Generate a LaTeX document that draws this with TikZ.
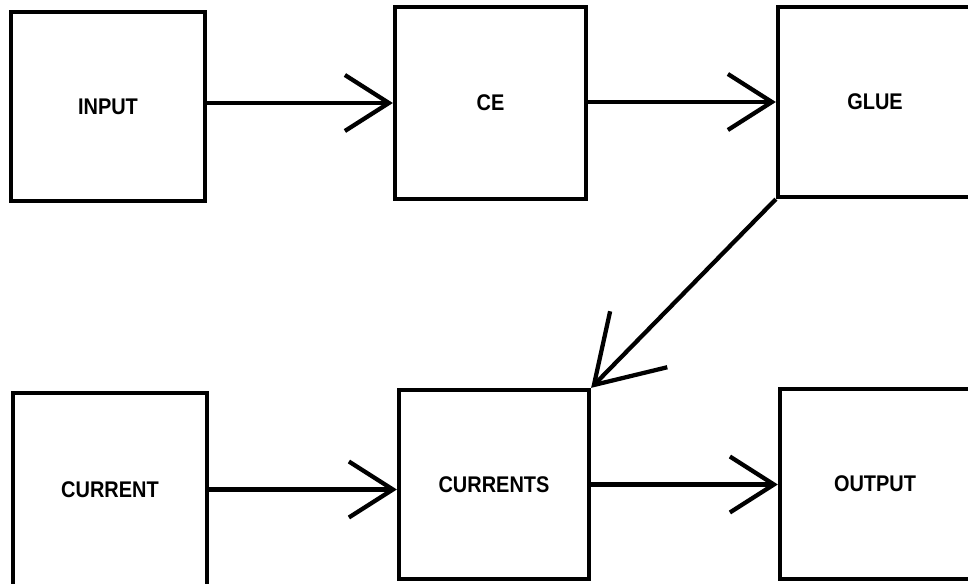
\documentclass[tikz,border=0pt]{standalone}
\usepackage{fontspec}
\newfontfamily\lblfont[FakeStretch=0.88]{Liberation Sans}
\usetikzlibrary{arrows.meta}
\begin{document}
\begin{tikzpicture}[x=0.75pt,y=-0.75pt,
  blk/.style={draw=black,line width=3.2pt,fill=white,inner sep=0pt,
    font=\lblfont\bfseries\fontsize{17pt}{20pt}\selectfont},
  flow/.style={line width=3.2pt,-{Straight Barb[length=33pt,width=42pt,line width=3.2pt]}},
  diagflow/.style={line width=3.2pt,-{Straight Barb[length=48pt,width=60pt,line width=3.2pt]}}]
\clip (0,0) rectangle (968,584);
\fill[white] (0,0) rectangle (968,584);
\node[blk,minimum width=194*0.75pt,minimum height=189*0.75pt] (input) at (108,106.5) {INPUT};
\node[blk,minimum width=191*0.75pt,minimum height=192*0.75pt] (ce) at (490.5,103) {CE};
\node[blk,minimum width=194*0.75pt,minimum height=190*0.75pt] (glue) at (875,102) {GLUE};
\node[blk,minimum width=194*0.75pt,minimum height=193*0.75pt] (current) at (110,489.5) {CURRENT};
\node[blk,minimum width=190*0.75pt,minimum height=189*0.75pt] (currents) at (494,484.5) {CURRENTS};
\node[blk,minimum width=190*0.75pt,minimum height=190*0.75pt] (output) at (875,484) {OUTPUT};
\draw[flow] (ce.west -| input.east) -- (ce.west);
\draw[flow] (glue.west -| ce.east) -- (glue.west);
\draw[flow] (current.east) -- (current.east -| currents.west);
\draw[flow] (currents.east) -- (currents.east -| output.west);
\draw[diagflow] (glue.south west) -- (currents.north east);
\end{tikzpicture}
\end{document}
